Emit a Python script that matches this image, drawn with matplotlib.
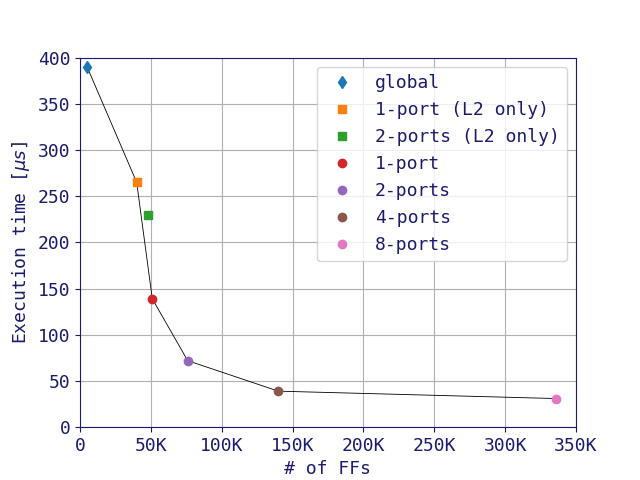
import matplotlib
matplotlib.use("Agg")
import matplotlib.pyplot as plt
from matplotlib.ticker import FuncFormatter

labels = ["global", "1-port (L2 only)", "2-ports (L2 only)", "1-port", "2-ports", "4-ports", "8-ports"]
ffs = [5000, 40000, 48000, 51000, 76000, 140000, 336000]
times = [390, 265, 230, 139, 72, 39, 31]
markers = ["d", "s", "s", "o", "o", "o", "o"]
line_idx = [0, 1, 3, 4, 5, 6]

navy = "#1a1a6e"
plt.rcParams['font.family'] = ['DejaVu Sans Mono']
plt.rcParams['font.size'] = 13
for k in ['text.color', 'axes.labelcolor', 'xtick.color', 'ytick.color', 'axes.edgecolor']:
    plt.rcParams[k] = navy

fig, ax = plt.subplots(figsize=(6.4, 4.8), dpi=100)
ax.plot([ffs[i] for i in line_idx], [times[i] for i in line_idx], color="black", lw=0.6, zorder=2)
colors = plt.rcParams['axes.prop_cycle'].by_key()['color']
for i, lab in enumerate(labels):
    ax.plot(ffs[i], times[i], marker=markers[i], linestyle="none", color=colors[i], label=lab, zorder=3)
ax.set_xlim(0, 350000)
ax.set_ylim(0, 400)
ax.xaxis.set_major_formatter(FuncFormatter(lambda v, p: "0" if v == 0 else f"{int(v/1000)}K"))
ax.grid(True, color="#b0b0b0")
ax.set_axisbelow(True)
ax.set_xlabel("# of FFs")
ax.set_ylabel(r"Execution time [$\mu s$]")
leg = ax.legend(loc="upper right")
for t in leg.get_texts():
    t.set_color(navy)
fig.savefig("out.png")
